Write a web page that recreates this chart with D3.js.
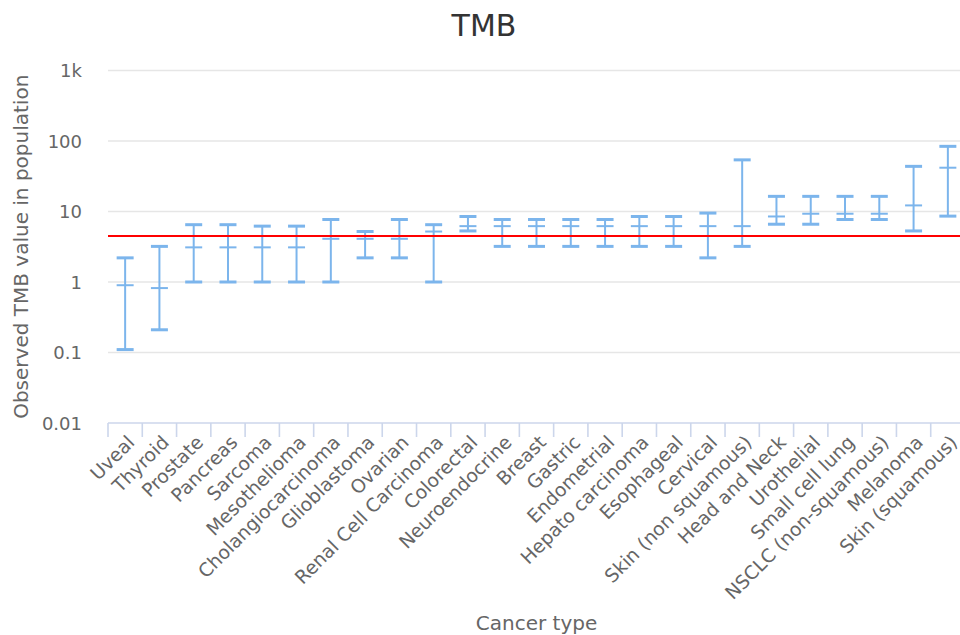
<!DOCTYPE html>
<html>
<head>
<meta charset="utf-8">
<script src="https://cdn.jsdelivr.net/npm/d3@7"></script>
<style>
  body { margin: 0; background: #fff; }
</style>
</head>
<body>
<svg id="chart" width="960" height="635" font-family="'DejaVu Sans', Verdana, sans-serif"></svg>
<script>

// cancer types, left to right
const categories = ["Uveal", "Thyroid", "Prostate", "Pancreas", "Sarcoma", "Mesothelioma",
    "Cholangiocarcinoma", "Glioblastoma", "Ovarian", "Renal Cell Carcinoma", "Colorectal",
    "Neuroendocrine", "Breast", "Gastric", "Endometrial", "Hepato carcinoma", "Esophageal",
    "Cervical", "Skin (non squamous)", "Head and Neck", "Urothelial", "Small cell lung",
    "NSCLC (non-squamous)", "Melanoma", "Skin (squamous)"];

// observed TMB: low whisker, median, high whisker
const lowValues    = [0.11, 0.21, 1.0, 1.0, 1.0, 1.0, 1.0, 2.2, 2.2, 1.0, 5.3, 3.2, 3.2, 3.2, 3.2, 3.2, 3.2, 2.2, 3.2, 6.6, 6.6, 7.7, 7.7, 5.3, 8.6];
const medianValues = [0.9, 0.82, 3.1, 3.1, 3.1, 3.1, 4.1, 4.1, 4.1, 5.2, 6.2, 6.2, 6.2, 6.2, 6.2, 6.2, 6.2, 6.2, 6.2, 8.5, 9.3, 9.3, 9.3, 12.2, 41.8];
const highValues   = [2.2, 3.2, 6.5, 6.5, 6.2, 6.2, 7.7, 5.2, 7.7, 6.5, 8.5, 7.7, 7.7, 7.7, 7.7, 8.5, 8.5, 9.5, 54, 16.4, 16.4, 16.4, 16.4, 43.7, 84];

// reference line
const thresholdValue = 4.5;

const yTicks = [0.01, 0.1, 1, 10, 100, 1000];
const yTickLabels = ["0.01", "0.1", "1", "10", "100", "1k"];

const svg = d3.select("#chart");
const plotLeft = 108, plotRight = 965, plotTop = 70.5, plotBottom = 423;
const gridRight = 960;
const barColor = "#7cb5ec";

const x = d3.scaleBand().domain(categories).range([plotLeft, plotRight]);
const y = d3.scaleLog().domain([0.01, 1000]).range([plotBottom, plotTop]);

// title
svg.append("text")
    .attr("x", 484).attr("y", 36)
    .attr("text-anchor", "middle")
    .attr("font-size", 30)
    .attr("fill", "#333333")
    .text("TMB");

// gridlines
svg.append("g").selectAll("line")
    .data(yTicks.slice(1))
    .join("line")
    .attr("x1", plotLeft).attr("x2", gridRight)
    .attr("y1", d => y(d)).attr("y2", d => y(d))
    .attr("stroke", "#e6e6e6")
    .attr("stroke-width", 1.6);

// y tick labels
svg.append("g").selectAll("text")
    .data(yTicks)
    .join("text")
    .attr("x", 82)
    .attr("y", d => y(d) + 6.5)
    .attr("text-anchor", "end")
    .attr("font-size", 18)
    .attr("fill", "#666666")
    .text((d, i) => yTickLabels[i]);

// y axis title
svg.append("text")
    .attr("transform", `translate(28, ${(plotTop + plotBottom) / 2}) rotate(-90)`)
    .attr("text-anchor", "middle")
    .attr("font-size", 20)
    .attr("fill", "#666666")
    .text("Observed TMB value in population");

// x axis
const xAxis = d3.axisBottom(x).tickSize(14).tickFormat("");
const xg = svg.append("g")
    .attr("transform", `translate(0, ${plotBottom})`)
    .call(xAxis);
xg.select(".domain").remove();
xg.selectAll(".tick line")
    .attr("transform", `translate(${-x.bandwidth() / 2}, 0)`)
    .attr("stroke", "#ccd6eb")
    .attr("stroke-width", 1.6);
xg.append("line")
    .attr("x1", plotLeft).attr("x2", gridRight)
    .attr("stroke", "#ccd6eb")
    .attr("stroke-width", 1.6);

// category labels
svg.append("g").selectAll("text")
    .data(categories)
    .join("text")
    .attr("transform", d => `translate(${x(d) + x.bandwidth() / 2 + 6}, 439) rotate(-45)`)
    .attr("text-anchor", "end")
    .attr("dy", "0.35em")
    .attr("font-size", 18.8)
    .attr("fill", "#666666")
    .text(d => d);

// x axis title
svg.append("text")
    .attr("x", (plotLeft + plotRight) / 2)
    .attr("y", 630)
    .attr("text-anchor", "middle")
    .attr("font-size", 20)
    .attr("fill", "#666666")
    .text("Cancer type");

// error bars
const bars = svg.append("g").selectAll("g")
    .data(categories.map((c, i) => ({ c, lo: lowValues[i], med: medianValues[i], hi: highValues[i] })))
    .join("g")
    .attr("transform", d => `translate(${x(d.c) + x.bandwidth() / 2}, 0)`);

const capHalf = 8.5;

bars.append("line")
    .attr("y1", d => y(d.lo)).attr("y2", d => y(d.hi))
    .attr("stroke", barColor).attr("stroke-width", 2);

bars.append("line")
    .attr("x1", -capHalf).attr("x2", capHalf)
    .attr("y1", d => y(d.hi)).attr("y2", d => y(d.hi))
    .attr("stroke", barColor).attr("stroke-width", 3);

bars.append("line")
    .attr("x1", -capHalf).attr("x2", capHalf)
    .attr("y1", d => y(d.lo)).attr("y2", d => y(d.lo))
    .attr("stroke", barColor).attr("stroke-width", 3);

bars.append("line")
    .attr("x1", -capHalf).attr("x2", capHalf)
    .attr("y1", d => y(d.med)).attr("y2", d => y(d.med))
    .attr("stroke", barColor).attr("stroke-width", 2);

// threshold line
svg.append("line")
    .attr("x1", plotLeft).attr("x2", gridRight)
    .attr("y1", y(thresholdValue)).attr("y2", y(thresholdValue))
    .attr("stroke", "red")
    .attr("stroke-width", 2);

</script>
</body>
</html>
